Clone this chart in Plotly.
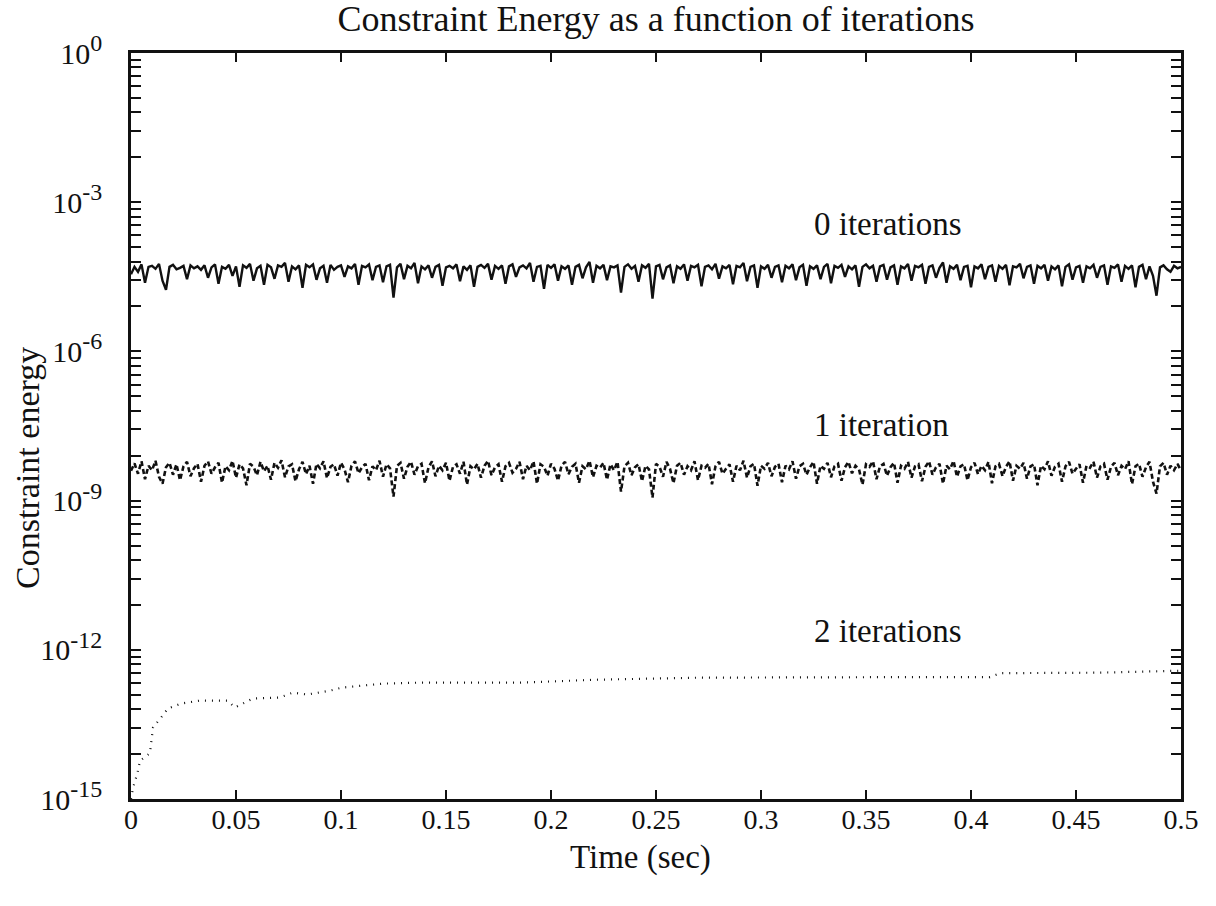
import numpy as np
import plotly.graph_objects as go

# Sample times (s): 301 samples over 0 .. 0.5 s
time_s = np.linspace(0.0, 0.5, 301)

# log10 of constraint energy, no iterations
log_e0 = [
    -4.45, -4.30, -4.40, -4.25, -4.62, -4.30, -4.28, -4.34, -4.24, -4.58, -4.76, -4.30, -4.26, -4.35, -4.32, -4.28, -4.55, -4.27, -4.33, -4.29,
    -4.36, -4.27, -4.52, -4.31, -4.25, -4.64, -4.30, -4.34, -4.26, -4.48, -4.29, -4.70, -4.27, -4.32, -4.24, -4.58, -4.33, -4.28, -4.66, -4.26,
    -4.31, -4.54, -4.27, -4.30, -4.22, -4.60, -4.29, -4.35, -4.27, -4.72, -4.26, -4.31, -4.25, -4.56, -4.33, -4.28, -4.62, -4.26, -4.36, -4.30,
    -4.27, -4.50, -4.29, -4.33, -4.24, -4.66, -4.28, -4.31, -4.25, -4.57, -4.30, -4.27, -4.61, -4.29, -4.26, -4.92, -4.31, -4.24, -4.55, -4.28,
    -4.33, -4.22, -4.63, -4.29, -4.35, -4.27, -4.52, -4.30, -4.26, -4.68, -4.31, -4.28, -4.33, -4.25, -4.59, -4.29, -4.36, -4.27, -4.70, -4.30,
    -4.26, -4.32, -4.24, -4.56, -4.28, -4.34, -4.27, -4.64, -4.29, -4.25, -4.50, -4.31, -4.27, -4.33, -4.22, -4.60, -4.30, -4.28, -4.74, -4.26,
    -4.32, -4.25, -4.58, -4.29, -4.34, -4.27, -4.66, -4.30, -4.26, -4.53, -4.31, -4.20, -4.62, -4.28, -4.33, -4.26, -4.57, -4.29, -4.31, -4.27,
    -4.82, -4.30, -4.25, -4.34, -4.28, -4.60, -4.27, -4.32, -4.24, -4.94, -4.29, -4.26, -4.55, -4.31, -4.27, -4.63, -4.29, -4.34, -4.25, -4.58,
    -4.28, -4.31, -4.26, -4.69, -4.30, -4.27, -4.35, -4.24, -4.54, -4.29, -4.33, -4.26, -4.65, -4.28, -4.31, -4.22, -4.59, -4.30, -4.27, -4.72,
    -4.29, -4.34, -4.26, -4.52, -4.30, -4.27, -4.61, -4.28, -4.33, -4.25, -4.57, -4.31, -4.26, -4.68, -4.29, -4.34, -4.27, -4.55, -4.30, -4.24,
    -4.63, -4.28, -4.32, -4.26, -4.50, -4.29, -4.35, -4.27, -4.70, -4.30, -4.25, -4.33, -4.28, -4.60, -4.29, -4.26, -4.56, -4.31, -4.27, -4.66,
    -4.29, -4.33, -4.24, -4.58, -4.28, -4.31, -4.26, -4.64, -4.30, -4.27, -4.52, -4.32, -4.21, -4.62, -4.29, -4.34, -4.26, -4.57, -4.30, -4.28,
    -4.71, -4.29, -4.33, -4.25, -4.55, -4.30, -4.27, -4.60, -4.28, -4.34, -4.26, -4.67, -4.29, -4.31, -4.24, -4.53, -4.30, -4.27, -4.64, -4.28,
    -4.33, -4.26, -4.58, -4.29, -4.35, -4.27, -4.69, -4.30, -4.25, -4.56, -4.31, -4.28, -4.62, -4.29, -4.33, -4.26, -4.52, -4.30, -4.27, -4.66,
    -4.29, -4.32, -4.25, -4.60, -4.28, -4.34, -4.27, -4.71, -4.30, -4.26, -4.55, -4.29, -4.48, -4.88, -4.31, -4.27, -4.35, -4.40, -4.28, -4.33,
    -4.30,
]

# log10 of constraint energy, 1 iteration
log_e1 = [
    -8.40, -8.25, -8.46, -8.21, -8.57, -8.30, -8.39, -8.20, -8.52, -8.66, -8.33, -8.24, -8.48, -8.27, -8.59, -8.31, -8.22, -8.51, -8.35, -8.26,
    -8.62, -8.30, -8.21, -8.46, -8.33, -8.24, -8.64, -8.31, -8.39, -8.20, -8.54, -8.27, -8.35, -8.69, -8.26, -8.32, -8.49, -8.22, -8.41, -8.30,
    -8.58, -8.24, -8.34, -8.19, -8.53, -8.31, -8.27, -8.61, -8.37, -8.22, -8.47, -8.30, -8.66, -8.26, -8.35, -8.21, -8.55, -8.32, -8.27, -8.50,
    -8.24, -8.37, -8.63, -8.30, -8.21, -8.45, -8.33, -8.26, -8.59, -8.31, -8.39, -8.20, -8.52, -8.27, -8.35, -8.92, -8.30, -8.24, -8.56, -8.32,
    -8.22, -8.48, -8.31, -8.26, -8.65, -8.33, -8.21, -8.51, -8.30, -8.39, -8.24, -8.60, -8.32, -8.27, -8.46, -8.22, -8.68, -8.31, -8.37, -8.26,
    -8.54, -8.30, -8.20, -8.49, -8.33, -8.27, -8.62, -8.31, -8.24, -8.44, -8.36, -8.22, -8.57, -8.30, -8.39, -8.21, -8.66, -8.27, -8.32, -8.50,
    -8.26, -8.36, -8.60, -8.30, -8.22, -8.47, -8.32, -8.26, -8.64, -8.31, -8.37, -8.20, -8.53, -8.30, -8.34, -8.24, -8.58, -8.27, -8.39, -8.22,
    -8.82, -8.31, -8.24, -8.49, -8.33, -8.27, -8.61, -8.30, -8.37, -8.94, -8.26, -8.32, -8.52, -8.22, -8.36, -8.65, -8.30, -8.24, -8.48, -8.31,
    -8.39, -8.21, -8.59, -8.30, -8.34, -8.26, -8.67, -8.31, -8.22, -8.46, -8.36, -8.27, -8.62, -8.30, -8.39, -8.20, -8.54, -8.31, -8.26, -8.70,
    -8.30, -8.36, -8.24, -8.51, -8.32, -8.26, -8.63, -8.30, -8.37, -8.21, -8.56, -8.31, -8.26, -8.48, -8.33, -8.22, -8.66, -8.30, -8.36, -8.24,
    -8.53, -8.31, -8.26, -8.60, -8.33, -8.22, -8.45, -8.30, -8.37, -8.68, -8.27, -8.32, -8.21, -8.57, -8.31, -8.26, -8.50, -8.33, -8.24, -8.64,
    -8.30, -8.36, -8.22, -8.54, -8.31, -8.27, -8.61, -8.32, -8.21, -8.48, -8.33, -8.26, -8.66, -8.30, -8.37, -8.20, -8.52, -8.31, -8.27, -8.59,
    -8.33, -8.24, -8.47, -8.30, -8.39, -8.22, -8.65, -8.31, -8.26, -8.51, -8.32, -8.21, -8.60, -8.30, -8.36, -8.24, -8.56, -8.31, -8.27, -8.69,
    -8.30, -8.37, -8.21, -8.50, -8.32, -8.26, -8.62, -8.31, -8.22, -8.46, -8.36, -8.27, -8.64, -8.30, -8.34, -8.22, -8.54, -8.31, -8.26, -8.58,
    -8.32, -8.24, -8.49, -8.30, -8.37, -8.21, -8.67, -8.31, -8.26, -8.52, -8.33, -8.22, -8.62, -8.86, -8.31, -8.24, -8.48, -8.30, -8.39, -8.26,
    -8.40,
]

# 2 iterations: sparse samples (time, log10 energy)
time_2 = [0.0, 0.001, 0.003, 0.0043, 0.009, 0.0105, 0.014, 0.0176, 0.024, 0.033,
          0.046, 0.0495, 0.058, 0.071, 0.077, 0.084, 0.095, 0.1005, 0.12, 0.138,
          0.185, 0.223, 0.271, 0.319, 0.366, 0.409, 0.414, 0.461, 0.5]
log_e2 = [-15.0, -14.77, -14.49, -14.23, -14.08, -13.56, -13.38, -13.18, -13.08, -13.02,
          -13.02, -13.16, -12.98, -12.96, -12.86, -12.90, -12.82, -12.76, -12.68, -12.66,
          -12.66, -12.60, -12.56, -12.55, -12.55, -12.55, -12.47, -12.46, -12.42]

series_labels = ["0 iterations", "1 iteration", "2 iterations"]
label_pos = [(0.3245, -3.44), (0.3245, -7.48), (0.3245, -11.63)]

x_ticks = [0, 0.05, 0.1, 0.15, 0.2, 0.25, 0.3, 0.35, 0.4, 0.45, 0.5]
x_ticktext = ["0", "0.05", "0.1", "0.15", "0.2", "0.25", "0.3", "0.35", "0.4", "0.45", "0.5"]
y_exponents = [0, -3, -6, -9, -12, -15]

FONT = "Liberation Serif, Times New Roman, serif"
INK = "#111111"

fig = go.Figure()
fig.add_trace(go.Scatter(x=time_s, y=np.power(10.0, log_e0), mode="lines",
                         line=dict(color=INK, width=2.4), name=series_labels[0]))
fig.add_trace(go.Scatter(x=time_s, y=np.power(10.0, log_e1), mode="lines",
                         line=dict(color=INK, width=2.6, dash="5px,3px"), name=series_labels[1]))
fig.add_trace(go.Scatter(x=time_2, y=np.power(10.0, log_e2), mode="lines",
                         line=dict(color=INK, width=2.2, dash="1px,6px"), name=series_labels[2]))

for text, (tx, ly) in zip(series_labels, label_pos):
    fig.add_annotation(x=tx, y=ly, xref="x", yref="y", text=text, showarrow=False,
                       xanchor="left", yanchor="middle",
                       font=dict(family=FONT, size=33, color=INK))

# log-spaced minor ticks across each 3-decade step
minor_vals = []
for top in y_exponents[1:]:
    for k in range(2, 10):
        minor_vals.append(10.0 ** top * k ** 3)

fig.update_xaxes(range=[0, 0.5], tickvals=x_ticks, ticktext=x_ticktext,
                 ticks="inside", ticklen=9, tickwidth=2, tickcolor=INK,
                 ticklabelstandoff=-6,
                 showline=True, linewidth=2.5, linecolor=INK, mirror="ticks",
                 showgrid=False, zeroline=False,
                 tickfont=dict(family=FONT, size=28, color=INK))
fig.update_yaxes(type="log", range=[-15, 0],
                 tickvals=[10.0 ** e for e in y_exponents],
                 ticktext=[f"10<sup><span style='font-size:24px'>{e}</span></sup>" for e in y_exponents],
                 ticks="inside", ticklen=10, tickwidth=2, tickcolor=INK,
                 ticklabelstandoff=20,
                 minor=dict(tickmode="array", tickvals=minor_vals, ticks="inside",
                            ticklen=10, tickwidth=2, tickcolor=INK, showgrid=False),
                 showline=True, linewidth=2.5, linecolor=INK, mirror="ticks",
                 showgrid=False, zeroline=False,
                 tickfont=dict(family=FONT, size=30, color=INK))

fig.add_annotation(x=-0.098, y=0.444, xref="paper", yref="paper", text="Constraint energy",
                   textangle=-90, showarrow=False, xanchor="center", yanchor="middle",
                   font=dict(family=FONT, size=34, color=INK))
fig.add_annotation(x=0.485, y=-0.079, xref="paper", yref="paper", text="Time (sec)",
                   showarrow=False, xanchor="center", yanchor="middle",
                   font=dict(family=FONT, size=33, color=INK))

fig.update_layout(
    width=1216, height=906,
    margin=dict(l=131, r=35, t=53, b=107),
    paper_bgcolor="white", plot_bgcolor="white",
    showlegend=False,
    title=dict(text="Constraint Energy as a function of iterations", x=0.5395, xanchor="center",
               y=0.980, yanchor="middle", font=dict(family=FONT, size=36, color=INK)),
)

fig.write_html("out.html")
